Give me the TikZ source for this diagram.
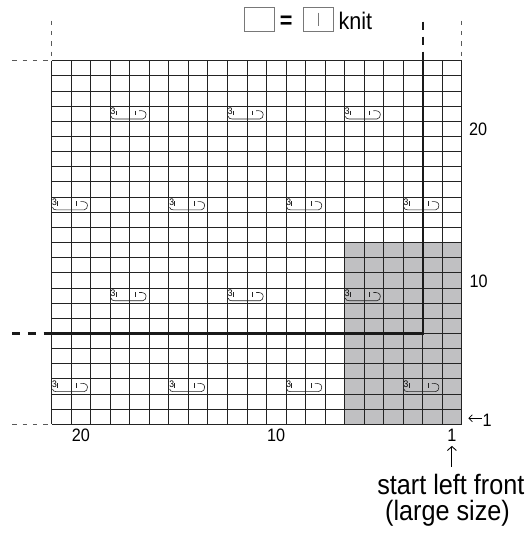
\documentclass[tikz,border=0pt]{standalone}
\usepackage{fontspec}
\setmainfont{Liberation Sans}[FakeStretch=0.9]
\usetikzlibrary{arrows.meta}
\definecolor{grayfill}{RGB}{192,192,194}
\definecolor{gridc}{RGB}{35,35,35}
\definecolor{boxc}{RGB}{120,120,120}
\def\cw{19.5238}
\def\rh{15.15}
\tikzset{
  gridline/.style={draw=gridc,line width=0.85pt},
  thinDash/.style={draw=black!65,line width=0.8pt,dash pattern=on 4.3pt off 6pt},
  thickLine/.style={draw=black!90,line width=2.4pt},
  thickDash/.style={thickLine,dash pattern=on 8.3pt off 6.7pt},
  numlab/.style={inner sep=0pt,font=\fontsize{18}{18}\selectfont},
  bigtext/.style={inner sep=0pt,font=\fontsize{28}{28}\selectfont,anchor=base},
  legbox/.style={draw=boxc,line width=0.8pt,minimum width=30pt,minimum height=23.3pt,inner sep=0pt},
  symline/.style={draw=gridc,line width=0.6pt},
  barbarrow/.style={draw=black,line width=0.9pt,-{Straight Barb[length=4pt,width=9pt]}},
  crossSym/.pic={
    \node[inner sep=0pt,font=\fontsize{9.5}{9.5}\selectfont] (-three) at (2.8,5.3) {3};
    \draw[symline] (5.8,4.4) -- (5.8,8.7);
    \draw[symline] (25,4.4) -- (25,8.7);
    \draw[symline] (28.8,4.6) to[out=10,in=90] (35.8,8.2) to[out=-90,in=0] (32.5,12.8) -- (4.5,12.8) to[out=180,in=-90] (0.8,10.2);
  }
}
\begin{document}
\begin{tikzpicture}[x=1pt,y=-1pt]
\useasboundingbox (0,0) rectangle (531,535);
% shaded block
\fill[grayfill] ({461.7-6*\cw},{424.3-12*\rh}) rectangle (461.7,424.3);
% grid
\foreach \i in {0,...,21} \draw[gridline] ({51.7+\i*\cw},60.7) -- ({51.7+\i*\cw},424.3);
\foreach \j in {0,...,24} \draw[gridline] (51.7,{60.7+\j*\rh}) -- (461.7,{60.7+\j*\rh});
% symbols
\foreach \i/\r [count=\k] in {3/21,9/21,15/21,0/15,6/15,12/15,18/15,3/9,9/9,15/9,0/3,6/3,12/3,18/3}
  \pic (sym\k) at ({51.7+\i*\cw},{424.3-\r*\rh}) {crossSym};
% thin dashed edges
\draw[thinDash] (51.7,20.7) -- (51.7,60.7);
\draw[thinDash] (461.7,20.7) -- (461.7,60.7);
\draw[thinDash] (12.3,60.7) -- (51.7,60.7);
\draw[thinDash] (12.3,424.3) -- (51.7,424.3);
% thick lines
\draw[thickLine,line join=miter] (51.7,333.3) -- (422.7,333.3) -- (422.7,60.7);
\draw[thickDash] (422.7,21.7) -- (422.7,60.7);
\draw[thickLine,dash pattern=on 8pt off 7.6pt] (12.3,333.3) -- (51.7,333.3);
% legend
\node[legbox] (blank) at (259.3,19.35) {};
\node[inner sep=0pt,anchor=base,font=\bfseries\fontsize{24}{24}\selectfont] (eq) at (286.2,28.3) {=};
\node[legbox] (knitbox) at (318,19.35) {};
\draw[draw=boxc,line width=0.8pt] ([yshift=6.65pt]knitbox.center) -- ([yshift=-6.65pt]knitbox.center);
\node[inner sep=0pt,anchor=base west,font=\fontsize{24}{24}\selectfont] (knit) at (338.3,29.3) {knit};
% row numbers
\node[numlab,anchor=base west] (r20) at (469,135) {20};
\node[numlab,anchor=base west] (r10) at (469.5,287.3) {10};
\node[numlab,anchor=base west] (r1) at (482.5,426) {1};
\coordinate (ltip) at (468.3,418.3);
\draw[barbarrow,line width=0.8pt,-{Straight Barb[length=3.5pt,width=7pt]},shorten <=1pt] (r1.west |- ltip) -- (ltip);
% column numbers
\node[numlab,anchor=base] (b20) at (81,441.7) {20};
\node[numlab,anchor=base] (b10) at (276.2,441.7) {10};
\node[numlab,anchor=base] (b1) at (451.9,441.7) {1};
\node[bigtext] (start1) at (450.8,494.3) {start left front};
\node[bigtext] (start2) at (447.5,520) {(large size)};
\draw[barbarrow,shorten <=7.2pt,shorten >=4pt] (b1.south |- start1.north) -- (b1.south);
\end{tikzpicture}
\end{document}
